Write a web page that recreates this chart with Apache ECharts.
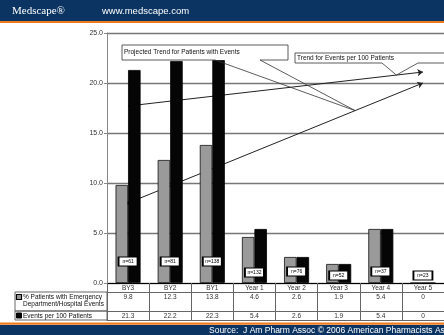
<!DOCTYPE html>
<html>
<head>
<meta charset="utf-8">
<script src="https://cdn.jsdelivr.net/npm/echarts@6/dist/echarts.min.js"></script>
<style>
  html, body { margin: 0; padding: 0; background: #fff; }
  #main { width: 444px; height: 335px; }
</style>
</head>
<body>
<div id="main"></div>
<script>
// data
var categories = ['BY3', 'BY2', 'BY1', 'Year 1', 'Year 2', 'Year 3', 'Year 4', 'Year 5'];
var pctPatients = [9.8, 12.3, 13.8, 4.6, 2.6, 1.9, 5.4, 0];
var eventsPer100 = [21.3, 22.2, 22.3, 5.4, 2.6, 1.9, 5.4, 0];
var nCounts = [61, 81, 138, 132, 76, 52, 37, 23];
var trendEvents = [17.7, 21.1];    // BY3 -> Year 5
var trendPatients = [8.0, 20.0];   // BY3 -> Year 5
var yTicks = ['0.0', '5.0', '10.0', '15.0', '20.0', '25.0'];

// where the little n= boxes sit (layout only)
var nBoxLevel = [2.15, 2.15, 2.15, 1.05, 1.15, 0.75, 1.15, 0.75];

var FONT = '"Liberation Sans", Arial, sans-serif';
var NAVY = '#0b3462';
var ORANGE = '#ee7a1f';

var chart = echarts.init(document.getElementById('main'), null, { renderer: 'canvas' });

function rowAxis(offset, values, tickLen, lineColor) {
  return {
    type: 'category',
    gridIndex: 0,
    position: 'bottom',
    offset: offset,
    data: categories,
    axisLine: { show: true, lineStyle: { color: lineColor, width: 1 } },
    axisTick: { show: tickLen > 0, interval: 0, alignWithLabel: false, length: tickLen,
      lineStyle: { color: '#666', width: 1 } },
    axisLabel: {
      show: values !== null, interval: 0, margin: 2, fontSize: 6.5, color: '#333', fontFamily: FONT,
      formatter: function (v, i) { return values ? String(values[i]) : ''; }
    },
    splitLine: { show: false }
  };
}

var option = {
  backgroundColor: '#fff',
  animation: false,
  grid: { left: 107, top: 33, bottom: 52, right: -7 },
  xAxis: [
    rowAxis(0, categories, 9, '#000'),
    rowAxis(9, pctPatients, 19, '#666'),
    rowAxis(28, eventsPer100, 9, '#666'),
    rowAxis(37, null, 0, '#666')
  ],
  yAxis: {
    type: 'value',
    min: 0, max: 25, interval: 5,
    axisLine: { show: true, lineStyle: { color: '#888', width: 1 } },
    axisTick: { show: true, length: 3, lineStyle: { color: '#888' } },
    axisLabel: {
      fontSize: 7, color: '#333', fontFamily: FONT, margin: 4,
      formatter: function (v) { return yTicks[Math.round(v / 5)]; }
    },
    splitLine: { show: true, lineStyle: { color: '#777', width: 1.4 } }
  },
  series: [
    {
      name: '% Patients with Emergency Department/Hospital Events',
      type: 'bar',
      data: pctPatients,
      barWidth: 12.5,
      barGap: '0%',
      itemStyle: { color: '#9a9a9a', borderColor: '#111', borderWidth: 0.8 },
      z: 3
    },
    {
      name: 'Events per 100 Patients',
      type: 'bar',
      data: eventsPer100,
      barWidth: 12.5,
      barGap: '0%',
      itemStyle: { color: '#050505', borderColor: '#000', borderWidth: 0.8 },
      z: 3
    },
    {
      name: 'trends',
      type: 'line',
      data: [],
      markLine: {
        z: 1,
        silent: true,
        animation: false,
        symbolSize: 5.5,
        label: { show: false },
        lineStyle: { color: '#222', width: 1, type: 'solid' },
        data: [
          [
            { coord: [0, trendEvents[0]], symbol: 'none' },
            { coord: [7, trendEvents[1]], symbol: 'arrow' }
          ],
          [
            { coord: [0, trendPatients[0]], symbol: 'circle', symbolSize: 3.5 },
            { coord: [7, trendPatients[1]], symbol: 'arrow' }
          ]
        ]
      }
    },
    {
      name: 'n',
      type: 'scatter',
      symbol: 'rect',
      symbolSize: [19, 9],
      z: 4,
      data: categories.map(function (c, i) { return [i, nBoxLevel[i]]; }),
      itemStyle: { color: '#fff', borderColor: '#000', borderWidth: 1.3, opacity: 1 },
      label: {
        show: true, position: 'inside', fontSize: 5, color: '#000', fontFamily: FONT,
        formatter: function (p) { return 'n=' + nCounts[p.dataIndex]; }
      }
    }
  ]
};
chart.setOption(option);

// callout tips sit on the trend lines
function onTrend(vals, t) {
  var a = chart.convertToPixel({ gridIndex: 0 }, [0, vals[0]]);
  var b = chart.convertToPixel({ gridIndex: 0 }, [7, vals[1]]);
  return [a[0] + (b[0] - a[0]) * t, a[1] + (b[1] - a[1]) * t];
}
var tip1 = onTrend(trendPatients, 0.77);
var tip2 = onTrend(trendEvents, 0.91);

var txt = function (x, y, s, size, color, extra) {
  var st = { text: s, x: x, y: y, font: (extra || '') + ' ' + size + 'px ' + FONT, fill: color,
    verticalAlign: 'middle', align: 'left' };
  return { type: 'text', z: 20, style: st };
};

chart.setOption({
  graphic: [
    // header
    { type: 'rect', z: 10, shape: { x: 0, y: 0, width: 444, height: 21 }, style: { fill: NAVY } },
    { type: 'rect', z: 10, shape: { x: 0, y: 21, width: 444, height: 2 }, style: { fill: ORANGE } },
    { type: 'text', z: 20, style: { text: 'Medscape\u00ae', x: 12, y: 11, verticalAlign: 'middle',
      font: '11px "Liberation Serif", "Times New Roman", serif', fill: '#fff' } },
    txt(102, 11, 'www.medscape.com', 9.5, '#fff'),
    // footer
    { type: 'rect', z: 10, shape: { x: 0, y: 322.5, width: 444, height: 2.2 }, style: { fill: ORANGE } },
    { type: 'rect', z: 10, shape: { x: 0, y: 325, width: 444, height: 10 }, style: { fill: NAVY } },
    txt(209, 330.5, 'Source:  J Am Pharm Assoc \u00a9 2006 American Pharmacists Association', 8.5, '#fff'),
    // table legend column
    { type: 'rect', z: 10, shape: { x: 15, y: 292, width: 92, height: 19 },
      style: { fill: 'none', stroke: '#666', lineWidth: 1 } },
    { type: 'rect', z: 10, shape: { x: 15, y: 311, width: 92, height: 9 },
      style: { fill: 'none', stroke: '#666', lineWidth: 1 } },
    { type: 'rect', z: 11, shape: { x: 16.5, y: 294.5, width: 5, height: 5 },
      style: { fill: '#9a9a9a', stroke: '#000', lineWidth: 1.2 } },
    { type: 'rect', z: 11, shape: { x: 16.5, y: 313, width: 5, height: 5 },
      style: { fill: '#000', stroke: '#000', lineWidth: 1 } },
    txt(23, 297.5, '% Patients with Emergency', 6.5, '#111'),
    txt(23, 304.5, 'Department/Hospital Events', 6.5, '#111'),
    txt(23, 315.8, 'Events per 100 Patients', 6.5, '#111'),
    // callout: projected trend
    { type: 'rect', z: 8, shape: { x: 122, y: 45, width: 166, height: 15 },
      style: { fill: '#fff', stroke: null } },
    { type: 'polyline', z: 9, shape: { points: [[215, 60], [122, 60], [122, 45], [288, 45], [288, 60], [260, 60], tip1, [215, 60]] },
      style: { fill: null, stroke: '#333', lineWidth: 0.8 } },
    txt(124, 52.5, 'Projected Trend for Patients with Events', 6.5, '#111'),
    // callout: events per 100
    { type: 'rect', z: 8, shape: { x: 295, y: 53, width: 160, height: 10 },
      style: { fill: '#fff', stroke: null } },
    { type: 'polyline', z: 9, shape: { points: [[382, 63], [295, 63], [295, 53], [450, 53], [450, 63], [418, 63], tip2, [382, 63]] },
      style: { fill: null, stroke: '#333', lineWidth: 0.8 } },
    txt(297, 58, 'Trend for Events per 100 Patients', 6.5, '#111')
  ]
});
</script>
</body>
</html>
